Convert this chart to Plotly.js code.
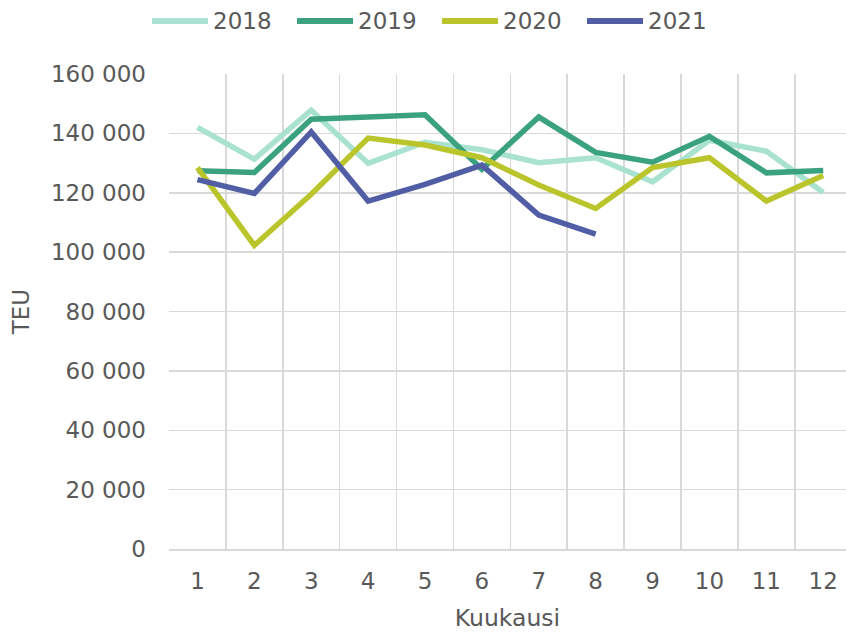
<!DOCTYPE html>
<html>
<head>
<meta charset="utf-8">
<script src="https://cdn.plot.ly/plotly-3.0.1.min.js"></script>
<style>
html, body { margin: 0; padding: 0; overflow: hidden; background: #fff; }
#chart { width: 846px; height: 632px; }
</style>
</head>
<body>
<div id="chart"></div>
<script>
const months = [1, 2, 3, 4, 5, 6, 7, 8, 9, 10, 11, 12];
const teu2018 = [142000, 131300, 147800, 129900, 137000, 134500, 130100, 131800, 123700, 137700, 134000, 120100];
const teu2019 = [127400, 126800, 144800, 145400, 146300, 127900, 145500, 133600, 130300, 139000, 126700, 127500];
const teu2020 = [128500, 102300, 119500, 138400, 136100, 131800, 122600, 114700, 128500, 131800, 117200, 125800];
const teu2021 = [124400, 119800, 140500, 117200, 122800, 129300, 112500, 106100];
const seriesNames = ["2018", "2019", "2020", "2021"];
const seriesColors = ["#A9E2D0", "#3BA27F", "#BAC52C", "#515DA5"];
const yTicks = [0, 20000, 40000, 60000, 80000, 100000, 120000, 140000, 160000];

const allSeries = [teu2018, teu2019, teu2020, teu2021];
const traces = allSeries.map((vals, i) => ({
  type: "scatter",
  mode: "lines",
  name: seriesNames[i],
  x: months.slice(0, vals.length),
  y: vals,
  line: { color: seriesColors[i], width: 5.5 },
  hoverinfo: "skip",
  showlegend: false
}));

const textColor = "#595959";
const gridColor = "#D9D9D9";
const fontFamily = "Verdana, 'DejaVu Sans', sans-serif";

// Plot area in pixels (for placing the custom legend in paper coordinates)
const W = 846, H = 632, ML = 169, MR = 0, MT = 74, MB = 83;
const PW = W - ML - MR, PH = H - MT - MB;
const px2x = p => (p - ML) / PW;
const py2y = p => (H - MB - p) / PH;

// Custom legend: long line samples like the original
const legendShapes = [];
const legendAnnots = [];
seriesNames.forEach((name, i) => {
  const x0 = 152 + 145 * i;
  legendShapes.push({
    type: "line", xref: "paper", yref: "paper",
    x0: px2x(x0), x1: px2x(x0 + 56), y0: py2y(21), y1: py2y(21),
    line: { color: seriesColors[i], width: 6 }
  });
  legendAnnots.push({
    xref: "paper", yref: "paper",
    x: px2x(x0 + 59), y: py2y(21),
    xanchor: "left", yanchor: "middle",
    text: name, showarrow: false,
    font: { family: fontFamily, size: 23, color: textColor }
  });
});

const layout = {
  width: W,
  height: H,
  margin: { l: ML, r: MR, t: MT, b: MB },
  paper_bgcolor: "#ffffff",
  plot_bgcolor: "#ffffff",
  font: { family: fontFamily, size: 23, color: textColor },
  separators: ", ",
  showlegend: false,
  shapes: legendShapes,
  annotations: legendAnnots,
  xaxis: {
    type: "linear",
    range: [0.5, 12.4],
    tickmode: "array",
    tickvals: months,
    ticktext: months.map(String),
    showgrid: false,
    zeroline: false,
    showline: true,
    linecolor: gridColor,
    linewidth: 1.5,
    ticks: "",
    ticklabelstandoff: 11,
    tickfont: { family: fontFamily, size: 23, color: textColor },
    minor: { tick0: 0.5, dtick: 1, showgrid: true, gridcolor: gridColor, gridwidth: 1.5, ticks: "" },
    title: { text: "Kuukausi", font: { family: fontFamily, size: 23.5, color: textColor }, standoff: 20 },
    fixedrange: true
  },
  yaxis: {
    range: [0, 160000],
    tickmode: "array",
    tickvals: yTicks,
    tickformat: ",.0f",
    showgrid: true,
    gridcolor: gridColor,
    gridwidth: 1.5,
    zeroline: false,
    showline: false,
    ticks: "",
    ticklabelstandoff: 22,
    tickfont: { family: fontFamily, size: 23, color: textColor },
    title: { text: "TEU", font: { family: fontFamily, size: 23, color: textColor }, standoff: 14 },
    fixedrange: true
  }
};

Plotly.newPlot("chart", traces, layout, { displayModeBar: false, staticPlot: true });
</script>
</body>
</html>
